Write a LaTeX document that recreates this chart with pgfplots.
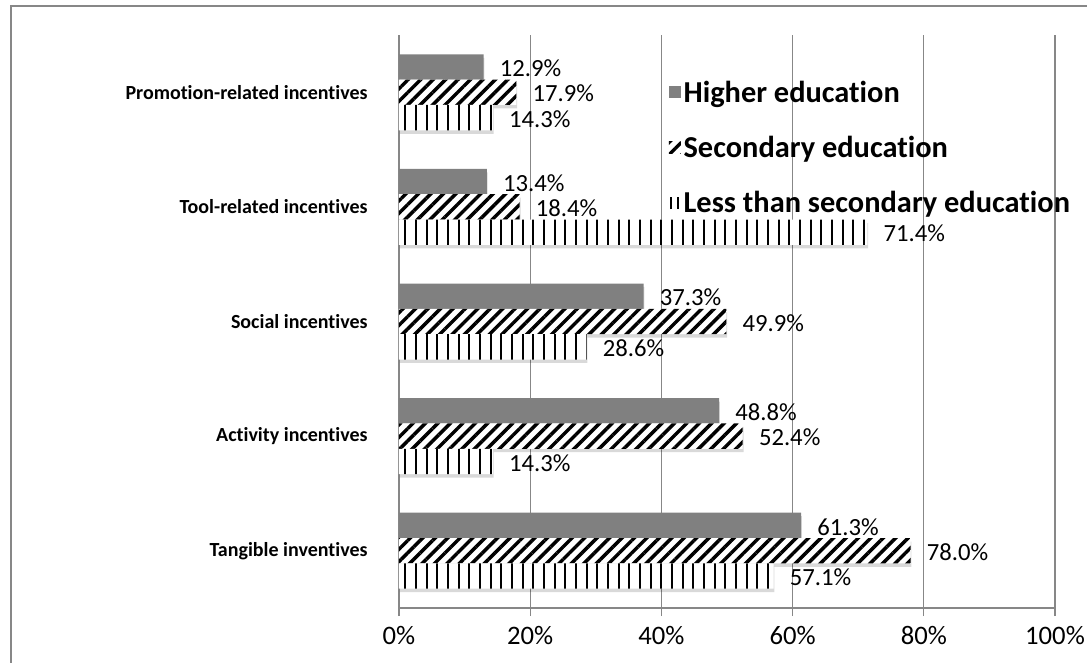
\documentclass[border=0pt]{standalone}
\usepackage{pgfplots}
\pgfplotsset{compat=1.18}
\usepackage{fontspec}
\setmainfont{Carlito}[Ligatures=NoCommon]
\usetikzlibrary{patterns.meta,shadows}

\definecolor{barGray}{HTML}{808080}
\definecolor{gridGray}{HTML}{878787}

% legend images should not inherit the bar shadow
\makeatletter
\tikzset{no extra actions/.code={\let\tikz@preactions\pgfutil@empty\let\tikz@postactions\pgfutil@empty}}
\makeatother

\begin{document}
\begin{tikzpicture}
    % page frame (only left and top edges are visible in the reference)
    \path[use as bounding box] (-299.25pt,-40.5pt) rectangle (516pt,456pt);
    \draw[gridGray, line width=1.5pt] (-291pt,-45pt) -- (-291pt,451.5pt) -- (520pt,451.5pt);

    \begin{axis}[
            scale only axis,
            width=492pt, height=429.75pt,
            xbar, bar width=19pt,
            xmin=0, xmax=100,
            ymin=-0.5, ymax=4.5,
            axis x line*=bottom, axis y line*=left,
            axis line style={gridGray, line width=0.9pt},
            xmajorgrids, grid style={gridGray, line width=0.9pt},
            xtick={0,20,...,100},
            xticklabel={\pgfmathprintnumber{\tick}\%},
            xticklabel style={font=\fontsize{20}{22}\selectfont, yshift=-4pt,
                    /pgf/number format/assume math mode=true},
            ytick={0,...,4},
            yticklabels={Tangible inventives, Activity incentives, Social incentives,
                    Tool-related incentives, Promotion-related incentives},
            yticklabel style={font=\bfseries\fontsize{15}{17}\selectfont, xshift=-14pt},
            minor ytick={-0.5,0.5,...,4.5},
            tick align=outside,
            major tick length=6pt, minor tick length=6pt,
            xtick style={gridGray, line width=0.9pt},
            ytick style={draw=none},
            minor tick style={gridGray, line width=0.9pt},
            point meta=x,
            nodes near coords={\pgfmathprintnumber[fixed,fixed zerofill,precision=1]{\pgfplotspointmeta}\%},
            every node near coord/.append style={anchor=west, inner sep=0pt, xshift=12pt, yshift=-1pt,
                    font=\fontsize{18.5}{20}\selectfont, black,
                    /pgf/number format/assume math mode=true},
            legend style={at={(rel axis cs:0.405,0.93)}, anchor=north west, draw=none, fill=none,
                    font=\bfseries\fontsize{22.8}{24}\selectfont, row sep=20pt,
                    /tikz/every even column/.append style={column sep=2pt}},
            legend cell align=left,
            bar shadow/.style={drop shadow={shadow xshift=0.6pt, shadow yshift=-2.6pt, opacity=0.15, fill=black}},
        ]

        \addplot[draw=none, fill=barGray, bar shift=19pt, bar shadow,
            legend image code/.code={\fill[no extra actions, barGray] (0pt,-4.5pt) rectangle (9pt,4.5pt);}]
        coordinates {(61.3,0) (48.8,1) (37.3,2) (13.4,3) (12.9,4)};
        \addlegendentry{Higher education}

        \addplot[draw=none, fill=white, bar shift=0pt, bar shadow,
            postaction={pattern={Lines[angle=45, distance=6.6pt, line width=2.6pt]}},
            legend image code/.code={\path[no extra actions, pattern={Lines[angle=45, distance=6.6pt, line width=2.6pt]}] (0pt,-4.5pt) rectangle (9pt,4.5pt);}]
        coordinates {(78.0,0) (52.4,1) (49.9,2) (18.4,3) (17.9,4)};
        \addlegendentry{Secondary education}

        \addplot[draw=none, fill=white, bar shift=-19pt, bar shadow,
            postaction={pattern={Lines[angle=90, distance=8pt, line width=1.6pt]}},
            legend image code/.code={\draw[no extra actions, line width=1.6pt, black]
                (1.5pt,-4.5pt) -- (1.5pt,4.5pt) (6.8pt,-4.5pt) -- (6.8pt,4.5pt);}]
        coordinates {(57.1,0) (14.3,1) (28.6,2) (71.4,3) (14.3,4)};
        \addlegendentry{Less than secondary education}
    \end{axis}
\end{tikzpicture}
\end{document}
